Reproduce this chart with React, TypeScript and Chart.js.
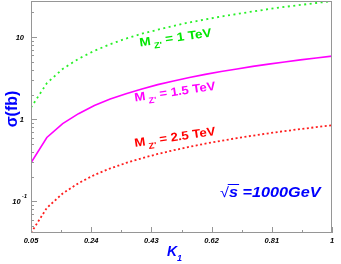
import React, { useEffect, useRef } from "react";
import { Chart, registerables } from "chart.js";

Chart.register(...registerables);

const kValues = [0.05, 0.1, 0.15, 0.2, 0.25, 0.3, 0.35, 0.4, 0.45, 0.5, 0.55, 0.6, 0.65, 0.7, 0.75, 0.8, 0.85, 0.9, 0.95, 1.0];
const sigmaMz1TeV = [1.39, 2.75, 4.1, 5.45, 6.8, 8.2, 9.6, 11.0, 12.3, 13.7, 15.1, 16.4, 17.8, 19.1, 20.5, 21.9, 23.3, 24.6, 26.0, 27.4];
const sigmaMz15TeV = [0.296, 0.6, 0.885, 1.17, 1.47, 1.76, 2.05, 2.34, 2.64, 2.93, 3.22, 3.52, 3.81, 4.1, 4.4, 4.69, 4.98, 5.28, 5.57, 5.87];
const sigmaMz25TeV = [0.0414, 0.0835, 0.125, 0.167, 0.21, 0.252, 0.294, 0.336, 0.378, 0.42, 0.462, 0.505, 0.547, 0.59, 0.632, 0.675, 0.717, 0.76, 0.802, 0.845];

const xTickValues = [0.05, 0.24, 0.43, 0.62, 0.81, 1.0];
const xTickLabels = ["0.05", "0.24", "0.43", "0.62", "0.81", "1"];
const yDecades = [0.1, 1, 10];
const yDecadeLabels = [["10", "-1"], ["1", ""], ["10", ""]];

const X_MIN = 0.05;
const X_MAX = 1.0;
const Y_MIN = 0.0413;
const Y_MAX = 27.5;

const FONT = "'Liberation Sans', Arial, sans-serif";
const AXIS = "rgb(150,150,150)";

type Part = [string, number, number];

function drawParts(ctx: CanvasRenderingContext2D, x: number, y: number, angleDeg: number, color: string, style: string, parts: Part[], sx = 1) {
  ctx.save();
  ctx.translate(x, y);
  ctx.rotate((angleDeg * Math.PI) / 180);
  ctx.scale(sx, 1);
  ctx.fillStyle = color;
  ctx.textBaseline = "alphabetic";
  ctx.textAlign = "left";
  let cx = 0;
  for (const [t, size, dy] of parts) {
    ctx.font = `${style} ${size}px ${FONT}`;
    ctx.fillText(t, cx, dy);
    cx += ctx.measureText(t).width;
  }
  ctx.restore();
}

const decorPlugin = {
  id: "decor",
  afterDatasetsDraw(chart: any) {
    const { ctx, chartArea: a, scales } = chart;
    const xs = scales.x;
    const ys = scales.y;
    ctx.save();
    // frame
    ctx.strokeStyle = AXIS;
    ctx.lineWidth = 1;
    ctx.strokeRect(a.left + 0.5, a.top + 0.5, a.right - a.left - 1, a.bottom - a.top - 1);

    // x ticks
    ctx.beginPath();
    const step = (X_MAX - X_MIN) / 5;
    for (let i = 0; i <= 10; i++) {
      const v = X_MIN + (step / 2) * i;
      const px = Math.round(xs.getPixelForValue(v)) + 0.5;
      const len = i % 2 === 0 ? 6 : 3;
      ctx.moveTo(px, a.bottom);
      ctx.lineTo(px, a.bottom - len);
    }
    // y ticks
    for (let e = -2; e <= 1; e++) {
      for (let m = 1; m <= 9; m++) {
        const v = m * Math.pow(10, e);
        if (v < Y_MIN || v > Y_MAX) continue;
        const py = Math.round(ys.getPixelForValue(v)) + 0.5;
        const len = m === 1 ? 6 : 3;
        ctx.moveTo(a.left, py);
        ctx.lineTo(a.left + len, py);
      }
    }
    ctx.stroke();

    // x tick labels
    ctx.fillStyle = "#000";
    ctx.font = `italic bold 7.5px ${FONT}`;
    ctx.textAlign = "center";
    ctx.textBaseline = "alphabetic";
    xTickValues.forEach((v, i) => {
      ctx.fillText(xTickLabels[i], xs.getPixelForValue(v), a.bottom + 10);
    });

    // y tick labels
    yDecades.forEach((v, i) => {
      const py = ys.getPixelForValue(v);
      const [base, sup] = yDecadeLabels[i];
      ctx.font = `italic bold 7.5px ${FONT}`;
      ctx.textAlign = "right";
      if (sup) {
        ctx.font = `italic bold 6px ${FONT}`;
        const sw = ctx.measureText(sup).width;
        ctx.fillText(sup, a.left - 4, py - 3);
        ctx.font = `italic bold 7.5px ${FONT}`;
        ctx.fillText(base, a.left - 5 - sw, py + 3);
      } else {
        ctx.fillText(base, a.left - 7, py + 3);
      }
    });

    // axis titles
    ctx.save();
    ctx.translate(17, 109);
    ctx.rotate(-Math.PI / 2);
    ctx.fillStyle = "rgb(0,0,255)";
    ctx.font = `bold 16px ${FONT}`;
    ctx.textAlign = "center";
    ctx.fillText("\u03c3(fb)", 0, 0);
    ctx.restore();

    drawParts(ctx, 167, 256, 0, "rgb(0,0,255)", "italic bold", [["K", 14, 0], ["1", 9, 5]]);

    // curve labels
    drawParts(ctx, 140, 46.5, -8, "rgb(0,230,0)", "bold", [["M", 12, 0], [" Z'", 8.5, 4], [" = 1 TeV", 12, 0]], 1.13);
    drawParts(ctx, 135, 101.5, -8.3, "rgb(255,0,255)", "bold", [["M", 12, 0], [" Z'", 8.5, 4], [" = 1.5 TeV", 12, 0]], 1.1);
    drawParts(ctx, 135, 147, -8.5, "rgb(255,0,0)", "bold", [["M", 12, 0], [" Z'", 8.5, 4], [" = 2.5 TeV", 12, 0]], 1.1);

    // sqrt(s) label
    ctx.save();
    ctx.translate(220, 197);
    ctx.scale(1.16, 1);
    ctx.fillStyle = "rgb(0,0,255)";
    ctx.textAlign = "left";
    ctx.font = `14px ${FONT}`;
    ctx.fillText("\u221a", 0, 0);
    const rw = ctx.measureText("\u221a").width;
    ctx.font = `italic bold 14px ${FONT}`;
    ctx.fillText("s", rw, 0);
    const sw = ctx.measureText("s").width;
    ctx.fillRect(rw - 1, -13, sw + 2, 1);
    ctx.fillText(" =1000GeV", rw + sw, 0);
    ctx.restore();

    ctx.restore();
  },
};

export default function App() {
  const ref = useRef<HTMLCanvasElement | null>(null);
  useEffect(() => {
    if (!ref.current) return;
    const chart = new Chart(ref.current, {
      type: "line",
      data: {
        datasets: [
          {
            label: "MZ' = 1 TeV",
            data: kValues.map((k, i) => ({ x: k, y: sigmaMz1TeV[i] })),
            borderColor: "rgb(40,240,40)",
            borderWidth: 1.8,
            borderDash: [2, 3.5],
            pointRadius: 0,
            tension: 0,
            fill: false,
          },
          {
            label: "MZ' = 1.5 TeV",
            data: kValues.map((k, i) => ({ x: k, y: sigmaMz15TeV[i] })),
            borderColor: "rgb(255,0,255)",
            borderWidth: 1.6,
            pointRadius: 0,
            tension: 0,
            fill: false,
          },
          {
            label: "MZ' = 2.5 TeV",
            data: kValues.map((k, i) => ({ x: k, y: sigmaMz25TeV[i] })),
            borderColor: "rgb(255,30,30)",
            borderWidth: 1.8,
            borderDash: [2, 2.5],
            pointRadius: 0,
            tension: 0,
            fill: false,
          },
        ],
      },
      options: {
        animation: false,
        responsive: false,
        maintainAspectRatio: false,
        layout: { padding: { left: 31, top: 1, right: 9, bottom: 31 } },
        plugins: { legend: { display: false }, tooltip: { enabled: false } },
        scales: {
          x: { type: "linear", min: X_MIN, max: X_MAX, display: false },
          y: { type: "logarithmic", min: Y_MIN, max: Y_MAX, display: false },
        },
      },
      plugins: [decorPlugin],
    });
    return () => chart.destroy();
  }, []);
  return (
    <div style={{ position: "absolute", left: 0, top: 0, width: 341, height: 264, background: "#fff" }}>
      <canvas ref={ref} width={341} height={264} style={{ width: 341, height: 264 }} />
    </div>
  );
}
